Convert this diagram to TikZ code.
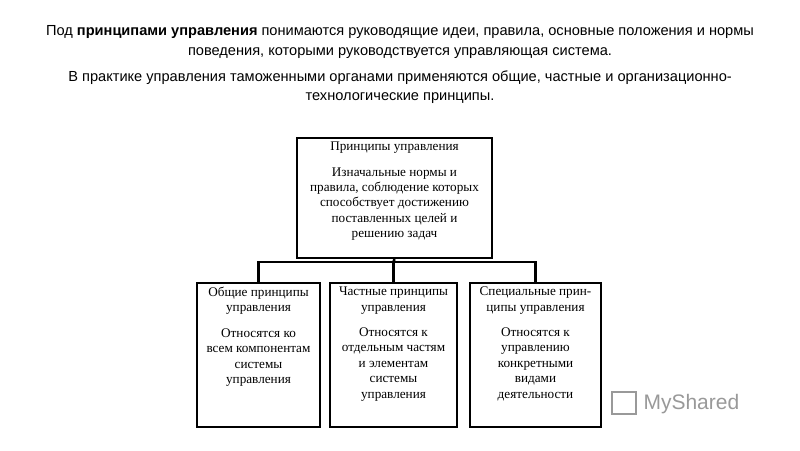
\documentclass[tikz,border=0pt]{standalone}
\usepackage{fontspec}
\setmainfont{Liberation Serif}
\newfontfamily\hdr{Liberation Sans}
\begin{document}
\begin{tikzpicture}[x=1pt,y=-1pt,
  box/.style={draw,line width=2.2pt,align=center,font=\fontsize{13.2}{15.4}\selectfont,inner sep=1pt},
  link/.style={line width=2.6pt},
  para/.style={align=center,font=\hdr\fontsize{14.6}{19.5}\selectfont}]
\useasboundingbox (0,0) rectangle (800,450);
\node[para] (p1) at (400,42) {Под \textbf{принципами управления} понимаются руководящие идеи, правила, основные положения и нормы\\поведения, которыми руководствуется управляющая система.};
\node[para] (p2) at (400,87) {В практике управления таможенными органами применяются общие, частные и организационно-\\технологические принципы.};
\node[box,minimum width=195,minimum height=120] (top) at (394.5,198) {};
\node[box,draw=none,anchor=north] (tt) at ([yshift=-3]top.north) {Принципы управления\\[10pt]Изначальные нормы и\\правила, соблюдение которых\\способствует достижению\\поставленных целей и\\решению задач};
\node[box,minimum width=123,minimum height=144] (b1) at (258.5,355) {};
\node[box,minimum width=127,minimum height=144] (b2) at (393.5,355) {};
\node[box,minimum width=131,minimum height=144] (b3) at (535.5,355) {};
\node[box,draw=none,anchor=north] (t1) at ([yshift=-3]b1.north) {Общие принципы\\управления\\[10pt]Относятся ко\\всем компонентам\\системы\\управления};
\node[box,draw=none,anchor=north] (t2) at ([yshift=-3]b2.north) {Частные принципы\\управления\\[10pt]Относятся к\\отдельным частям\\и элементам\\системы\\управления};
\node[box,draw=none,anchor=north] (t3) at ([yshift=-3]b3.north) {Специальные прин-\\ципы управления\\[10pt]Относятся к\\управлению\\конкретными\\видами\\деятельности};
\coordinate (j) at (393.5,262);
\draw[link] (top.south) -- (j);
\draw[link] (b1.north) |- (j) -| (b3.north);
\draw[link] (j) -- (b2.north);
\node[font=\hdr\fontsize{21}{21}\selectfont,text=gray!80,anchor=west] (logo) at (640,404) {MyShared};
\node[draw=gray!80,line width=2pt,minimum width=24,minimum height=22] (ic) at (624,403) {};
\end{tikzpicture}
\end{document}
